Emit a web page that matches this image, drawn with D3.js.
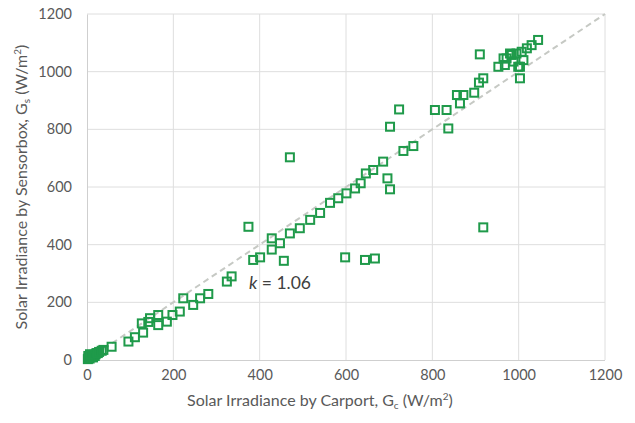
<!DOCTYPE html>
<html>
<head>
<meta charset="utf-8">
<script src="https://cdn.jsdelivr.net/npm/d3@7"></script>
<style>
  html, body { margin: 0; padding: 0; background: #fff; }
  svg { display: block; }
  text { font-family: Lato, "Open Sans", "Liberation Sans", sans-serif; }
</style>
</head>
<body>
<svg id="chart" width="635" height="423"></svg>
<script>
// Irradiance measured by the carport reference sensor (x) vs. the sensorbox (y), W/m²
const carportG = [
  2, 4, 6, 8, 10, 12, 14, 16, 18, 20, 22, 3, 7, 25, 28, 34, 38, 57,
  96, 111, 130, 127, 146, 142, 165, 165, 185, 198, 215, 223, 246, 262, 281, 324, 335,
  374, 385, 401, 428, 428, 447, 456, 470, 470, 493, 517, 540, 563, 582, 601, 621, 634,
  646, 663, 686, 598, 644, 667, 696, 702, 702, 723, 733, 756,
  806, 833, 837, 857, 872, 864, 897, 908, 918, 918, 910,
  953, 968, 972, 984, 988, 995, 1003, 1003, 1007, 1011, 1019, 1030, 1045, 980, 965, 999
];
const sensorboxG = [
  3, 8, 5, 12, 10, 15, 9, 18, 14, 20, 24, 14, 20, 24, 28, 32, 35, 46,
  64, 79, 95, 127, 145, 132, 156, 121, 133, 156, 168, 214, 191, 214, 229, 272, 290,
  462, 347, 356, 422, 383, 405, 344, 439, 703, 457, 486, 510, 545, 561, 578, 595, 613,
  647, 659, 688, 356, 347, 352, 630, 592, 809, 869, 725, 742,
  867, 867, 803, 919, 919, 890, 927, 962, 977, 460, 1060,
  1017, 1023, 1046, 1058, 1035, 1063, 1017, 977, 1069, 1040, 1081, 1092, 1110, 1063, 1046, 1017
];
const xTicks = [0, 200, 400, 600, 800, 1000, 1200];
const yTicks = [0, 200, 400, 600, 800, 1000, 1200];
const slopeLabel = "1.06";
const refLine = [[0, 0], [1200, 1200]];

const svg = d3.select("#chart");
const plotL = 87, plotR = 605, plotT = 14, plotB = 360;

const x = d3.scaleLinear().domain([0, 1200]).range([plotL, plotR]);
const y = d3.scaleLinear().domain([0, 1200]).range([plotB, plotT]);

// gridlines
const grid = svg.append("g");
grid.selectAll("line.v").data(xTicks.filter(d => d > 0)).join("line")
  .attr("x1", d => x(d)).attr("x2", d => x(d))
  .attr("y1", plotT).attr("y2", plotB)
  .attr("stroke", "#dedede").attr("stroke-width", 1);
grid.selectAll("line.h").data(yTicks.filter(d => d > 0)).join("line")
  .attr("x1", plotL).attr("x2", plotR)
  .attr("y1", d => y(d)).attr("y2", d => y(d))
  .attr("stroke", "#dedede").attr("stroke-width", 1);

// axes
const xAxis = svg.append("g").attr("transform", `translate(0,${plotB})`)
  .call(d3.axisBottom(x).tickValues(xTicks).tickSize(0).tickPadding(10).tickFormat(d3.format("d")));
const yAxis = svg.append("g").attr("transform", `translate(${plotL},0)`)
  .call(d3.axisLeft(y).tickValues(yTicks).tickSize(0).tickPadding(15).tickFormat(d3.format("d")));
[xAxis, yAxis].forEach(a => {
  a.select(".domain").attr("stroke", "#cfcfcf").attr("stroke-width", 1);
  a.selectAll("text").attr("fill", "#595959").attr("font-size", 14.5)
    .style("font-family", "Lato, 'Open Sans', sans-serif");
});
xAxis.select(".domain").attr("d", `M${plotL},0.5H${plotR}`);

// 1:1 reference line
svg.append("line")
  .attr("x1", x(refLine[0][0])).attr("y1", y(refLine[0][1]))
  .attr("x2", x(refLine[1][0])).attr("y2", y(refLine[1][1]))
  .attr("stroke", "#c6c9c4").attr("stroke-width", 2)
  .attr("stroke-dasharray", "6,4");

// points
const pts = carportG.map((d, i) => [d, sensorboxG[i]]);
const s = 8;
svg.append("g").selectAll("rect").data(pts).join("rect")
  .attr("x", d => x(d[0]) - s / 2).attr("y", d => y(d[1]) - s / 2)
  .attr("width", s).attr("height", s)
  .attr("fill", "none").attr("stroke", "#1f9a4a").attr("stroke-width", 2);

// slope annotation
const ann = svg.append("text").attr("x", 249).attr("y", 289)
  .attr("font-size", 17.5).attr("fill", "#404040");
ann.append("tspan").attr("font-style", "italic").text("k");
ann.append("tspan").text(" = " + slopeLabel);

// axis titles
const xt = svg.append("text").attr("x", 320).attr("y", 406)
  .attr("text-anchor", "middle").attr("font-size", 16).attr("fill", "#595959");
xt.append("tspan").text("Solar Irradiance by Carport, G");
xt.append("tspan").attr("font-size", 10).attr("dy", 3).text("c");
xt.append("tspan").attr("dy", -3).text(" (W/m");
xt.append("tspan").attr("font-size", 10).attr("dy", -6).text("2");
xt.append("tspan").attr("dy", 6).text(")");

const yt = svg.append("text").attr("transform", "translate(27,187) rotate(-90)")
  .attr("text-anchor", "middle").attr("font-size", 16).attr("fill", "#595959");
yt.append("tspan").text("Solar Irradiance by Sensorbox, G");
yt.append("tspan").attr("font-size", 10).attr("dy", 3).text("s");
yt.append("tspan").attr("dy", -3).text(" (W/m");
yt.append("tspan").attr("font-size", 10).attr("dy", -6).text("2");
yt.append("tspan").attr("dy", 6).text(")");
</script>
</body>
</html>
